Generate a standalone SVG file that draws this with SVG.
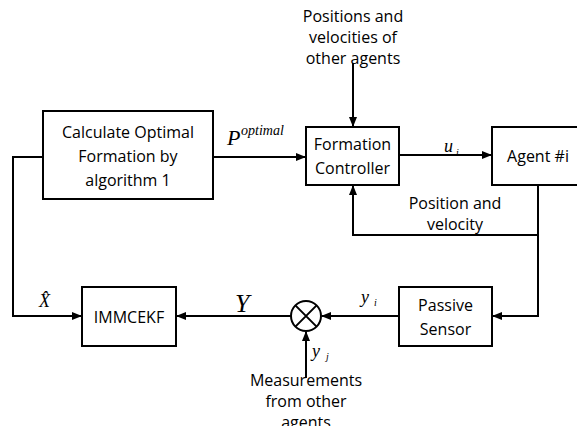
<svg xmlns="http://www.w3.org/2000/svg" width="577" height="426" viewBox="0 0 577 426">
<defs>
<marker id="arr" markerWidth="10" markerHeight="8" refX="9" refY="4" orient="auto" markerUnits="userSpaceOnUse">
<path d="M0,0 L10,4 L0,8 Z" fill="#000"/>
</marker>
<style>
.box{fill:#fff;stroke:#000;stroke-width:2}
.t{font-family:"Open Sans","Liberation Sans",sans-serif;font-size:16px;fill:#000;text-anchor:middle}
.m{font-family:"Liberation Serif",serif;font-style:italic;fill:#000}
.ln{fill:none;stroke:#000;stroke-width:2}
</style>
</defs>
<rect width="577" height="426" fill="#fff"/>
<g id="connectors">
<path class="ln" d="M213,157 H305" marker-end="url(#arr)"/>
<path class="ln" d="M353,63 V126" marker-end="url(#arr)"/>
<path class="ln" d="M399,155 H491" marker-end="url(#arr)"/>
<path class="ln" d="M538,185 V316 H493" marker-end="url(#arr)"/>
<path class="ln" d="M538,235 H353 V186" marker-end="url(#arr)"/>
<path class="ln" d="M399,316 H322" marker-end="url(#arr)"/>
<path class="ln" d="M291,316 H177" marker-end="url(#arr)"/>
<path class="ln" d="M43,157 H13 V316 H81" marker-end="url(#arr)"/>
<path class="ln" d="M306,378 V332" marker-end="url(#arr)"/>
</g>
<g id="calc">
<rect class="box" x="43" y="111" width="170" height="88"/>
<text class="t" x="128" y="138">Calculate Optimal</text>
<text class="t" x="128" y="162">Formation by</text>
<text class="t" x="128" y="186">algorithm 1</text>
</g>
<g id="formation">
<rect class="box" x="306" y="127" width="93" height="58"/>
<text class="t" x="352.5" y="150">Formation</text>
<text class="t" x="352.5" y="174">Controller</text>
</g>
<g id="agent">
<rect class="box" x="492" y="127" width="100" height="58"/>
<text class="t" x="538" y="162">Agent #i</text>
</g>
<g id="sensor">
<rect class="box" x="399" y="287" width="93" height="59"/>
<text class="t" x="445.5" y="311">Passive</text>
<text class="t" x="445.5" y="335">Sensor</text>
</g>
<g id="immcekf">
<rect class="box" x="82" y="287" width="94" height="59"/>
<text class="t" x="129" y="323">IMMCEKF</text>
</g>
<g id="mult">
<circle cx="306" cy="316" r="15" fill="#fff" stroke="#000" stroke-width="2"/>
<path class="ln" d="M295.4,305.4 L316.6,326.6 M316.6,305.4 L295.4,326.6"/>
</g>
<g id="labels">
<text class="t" x="353" y="22">Positions and</text>
<text class="t" x="353" y="43">velocities of</text>
<text class="t" x="353" y="64">other agents</text>
<text class="t" x="455" y="209">Position and</text>
<text class="t" x="455" y="230">velocity</text>
<text class="t" x="306" y="386">Measurements</text>
<text class="t" x="306" y="407">from other</text>
<text class="t" x="306" y="428">agents</text>
<text class="m" x="227" y="145" font-size="22">P</text>
<text class="m" x="241" y="135" font-size="14">optimal</text>
<text class="m" x="444" y="152" font-size="18">u</text>
<text class="m" x="456" y="156" font-size="10">i</text>
<text class="m" x="361" y="303" font-size="18">y</text>
<text class="m" x="374" y="306" font-size="10">i</text>
<text class="m" x="312" y="357" font-size="18">y</text>
<text class="m" x="326" y="360" font-size="10">j</text>
<text class="m" x="235" y="312" font-size="26">Y</text>
<text class="m" x="39" y="307" font-size="18">X&#x302;</text>
</g>
</svg>
